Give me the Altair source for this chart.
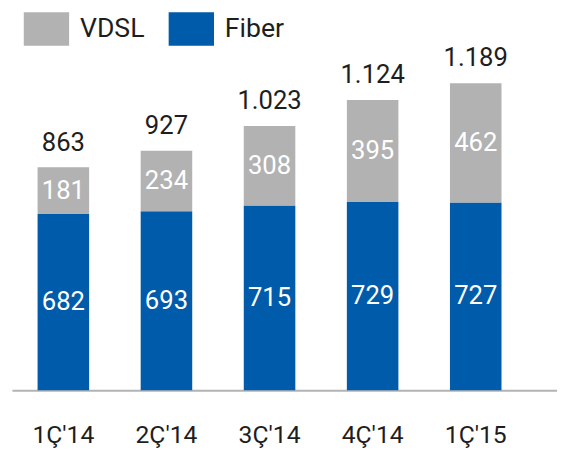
import altair as alt
import pandas as pd

quarters = ["1Ç'14", "2Ç'14", "3Ç'14", "4Ç'14", "1Ç'15"]
fiber = [682, 693, 715, 729, 727]
vdsl = [181, 234, 308, 395, 462]
series = ["VDSL", "Fiber"]
colors = ["#B2B2B2", "#005BAA"]

rows = []
for q, f, v in zip(quarters, fiber, vdsl):
    rows.append({"q": q, "series": "Fiber", "value": f, "y0": 0, "y1": f})
    rows.append({"q": q, "series": "VDSL", "value": v, "y0": f, "y1": f + v})
df = pd.DataFrame(rows)
df["mid"] = (df["y0"] + df["y1"]) / 2
tot = pd.DataFrame({"q": quarters, "total": [f + v for f, v in zip(fiber, vdsl)]})

FONT = "Roboto"
TXT = "#1E1E1E"

xscale = alt.Scale(paddingInner=0.5, paddingOuter=0.3935, align=0.316, round=False)
x = alt.X(
    "q:N", sort=quarters, title=None, scale=xscale,
    axis=alt.Axis(labelAngle=0, ticks=False, domainColor="#B3B3B3", domainWidth=2,
                  labelFont=FONT, labelFontSize=25, labelColor=TXT, labelPadding=33),
)
yscale = alt.Scale(domain=[0, 1298], nice=False)

bars = alt.Chart(df).mark_bar().encode(
    x=x,
    y=alt.Y("y0:Q", scale=yscale, axis=None),
    y2="y1:Q",
    color=alt.Color(
        "series:N",
        scale=alt.Scale(domain=series, range=colors),
        legend=alt.Legend(
            title=None, orient="none", legendX=12, legendY=-49.5, direction="horizontal",
            symbolType="M-1,-0.739H1V0.739H-1Z", symbolSize=2116, symbolStrokeWidth=0,
            symbolOpacity=1, labelFont=FONT, labelFontSize=27, labelColor=TXT,
            labelOffset=11, columnPadding=24, padding=0,
        ),
    ),
)

inner = alt.Chart(df).mark_text(color="white", font=FONT, fontSize=26, baseline="middle").encode(
    x=alt.X("q:N", sort=quarters),
    y=alt.Y("mid:Q", scale=yscale),
    text=alt.Text("value:Q"),
)

totals = alt.Chart(tot).transform_calculate(
    label="replace(format(datum.total, ','), ',', '.')"
).mark_text(color=TXT, font=FONT, fontSize=26, baseline="alphabetic", dy=-17).encode(
    x=alt.X("q:N", sort=quarters),
    y=alt.Y("total:Q", scale=yscale),
    text="label:N",
)

chart = alt.layer(bars, inner, totals).properties(
    width=553, height=340,
    autosize=alt.AutoSizeParams(type="none"),
    padding={"left": 4, "top": 44.5, "right": 0, "bottom": 60},
).configure_view(stroke=None)

chart.save("out.html", embed_options={"renderer": "svg", "actions": False})
